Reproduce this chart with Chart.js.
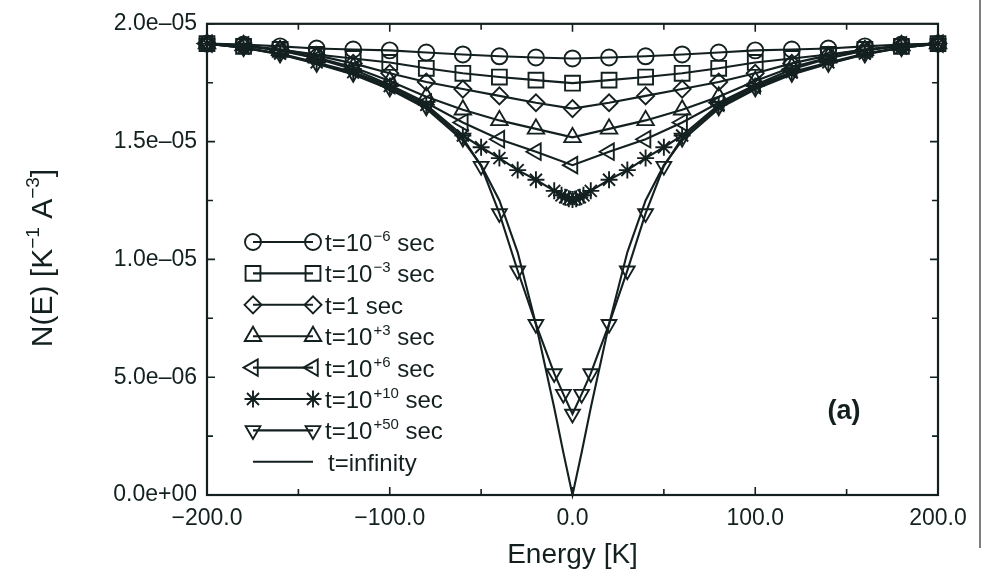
<!DOCTYPE html>
<html>
<head>
<meta charset="utf-8">
<script src="https://cdn.jsdelivr.net/npm/chart.js@4.4.1/dist/chart.umd.min.js"></script>
<style>
  html, body { margin: 0; padding: 0; background: #fff; }
  #wrap { width: 984px; height: 572px; position: relative; }
</style>
</head>
<body>
<div id="wrap"><canvas id="chart" width="984" height="572"></canvas></div>
<script>
// Energy grids [K]
var xCoarse = [-200, -180, -160, -140, -120, -100, -80, -60, -40, -20, 0, 20, 40, 60, 80, 100, 120, 140, 160, 180, 200];
var xStar = [-200, -180, -160, -140, -120, -100, -80, -60, -50, -40, -30, -20, -10, -6, -4, -2, 0, 2, 4, 6, 10, 20, 30, 40, 50, 60, 80, 100, 120, 140, 160, 180, 200];
var xFine = [-200, -180, -160, -140, -120, -100, -80, -60, -50, -40, -30, -20, -10, -5, 0, 5, 10, 20, 30, 40, 50, 60, 80, 100, 120, 140, 160, 180, 200];

// N(E) in units of 1e-5 K^-1 A^-3
var nT6m = [1.916, 1.912, 1.904, 1.895, 1.891, 1.887, 1.878, 1.870, 1.862, 1.857, 1.853, 1.857, 1.862, 1.870, 1.878, 1.887, 1.891, 1.895, 1.904, 1.912, 1.916];
var nT3m = [1.916, 1.904, 1.891, 1.870, 1.853, 1.836, 1.811, 1.790, 1.774, 1.761, 1.748, 1.761, 1.774, 1.790, 1.811, 1.836, 1.853, 1.870, 1.891, 1.904, 1.916];
var nT1 = [1.916, 1.908, 1.891, 1.866, 1.832, 1.790, 1.753, 1.723, 1.694, 1.665, 1.640, 1.665, 1.694, 1.723, 1.753, 1.790, 1.832, 1.866, 1.891, 1.908, 1.916];
var nT3p = [1.916, 1.908, 1.887, 1.857, 1.816, 1.757, 1.690, 1.635, 1.590, 1.554, 1.518, 1.554, 1.590, 1.635, 1.690, 1.757, 1.816, 1.857, 1.887, 1.908, 1.916];
var nT6p = [1.916, 1.908, 1.887, 1.853, 1.807, 1.740, 1.665, 1.581, 1.510, 1.457, 1.400, 1.457, 1.510, 1.581, 1.665, 1.740, 1.807, 1.853, 1.887, 1.908, 1.916];
var nT10p = [1.916, 1.899, 1.874, 1.836, 1.795, 1.736, 1.656, 1.526, 1.476, 1.430, 1.379, 1.338, 1.291, 1.272, 1.264, 1.257, 1.254, 1.257, 1.264, 1.272, 1.291, 1.338, 1.379, 1.430, 1.476, 1.526, 1.656, 1.736, 1.795, 1.836, 1.874, 1.899, 1.916];
var nT50p = [1.916, 1.899, 1.872, 1.832, 1.790, 1.728, 1.648, 1.515, 1.396, 1.195, 0.952, 0.725, 0.516, 0.428, 0.344, 0.428, 0.516, 0.725, 0.952, 1.195, 1.396, 1.515, 1.648, 1.728, 1.790, 1.832, 1.872, 1.899, 1.916];
var nInf = [1.916, 1.899, 1.870, 1.830, 1.785, 1.722, 1.640, 1.505, 1.400, 1.250, 1.030, 0.725, 0.370, 0.180, 0.000, 0.180, 0.370, 0.725, 1.030, 1.250, 1.400, 1.505, 1.640, 1.722, 1.785, 1.830, 1.870, 1.899, 1.916];

var xTickLabels = ["\u2212200.0", "\u2212100.0", "0.0", "100.0", "200.0"];
var yTickLabels = ["0.0e+00", "5.0e\u201306", "1.0e\u201305", "1.5e\u201305", "2.0e\u201305"];

// legend text pieces: [base, superscript, tail]
var legendParts = [
  ["t=10", "\u22126", " sec"],
  ["t=10", "\u22123", " sec"],
  ["t=1 sec", "", ""],
  ["t=10", "+3", " sec"],
  ["t=10", "+6", " sec"],
  ["t=10", "+10", " sec"],
  ["t=10", "+50", " sec"],
  ["t=infinity", "", ""]
];

var ink = "#142020";
var fontFam = "'Liberation Sans', Arial, Helvetica, sans-serif";

function pts(xs, ys) {
  return xs.map(function (x, i) { return { x: x, y: ys[i] }; });
}

function series(label, xs, ys, style, radius, rotation) {
  return {
    label: label,
    data: pts(xs, ys),
    borderColor: ink,
    borderWidth: 2.1,
    backgroundColor: "rgba(0,0,0,0)",
    pointStyle: style,
    pointRadius: radius,
    pointRotation: rotation || 0,
    pointBorderWidth: 1.9,
    pointBorderColor: ink,
    pointBackgroundColor: "rgba(0,0,0,0)",
    tension: 0,
    fill: false,
    clip: false
  };
}

var datasets = [
  series("t=10^-6 sec", xCoarse, nT6m, "circle", 8),
  series("t=10^-3 sec", xCoarse, nT3m, "rect", 10.5),
  series("t=1 sec", xCoarse, nT1, "rectRot", 8.5),
  series("t=10^+3 sec", xCoarse, nT3p, "triangle", 9.5),
  series("t=10^+6 sec", xCoarse, nT6p, "triangle", 9.5, -90),
  series("t=10^+10 sec", xStar, nT10p, "star", 8.5),
  series("t=10^+50 sec", xFine, nT50p, "triangle", 8.5, 180),
  series("t=infinity", xFine, nInf, false, 0)
];

///Frame, inward ticks, legend and labels drawn by hand
var decorPlugin = {
  id: "decor",
  beforeDatasetsDraw: function (chart) {
    var ctx = chart.ctx;
    var a = chart.chartArea;
    var xs = chart.scales.x, ys = chart.scales.y;
    ctx.save();
    ctx.strokeStyle = ink;
    ctx.lineWidth = 2.2;
    ctx.strokeRect(a.left, a.top, a.right - a.left, a.bottom - a.top);
    ctx.lineWidth = 1.6;
    var v, p, len;
    for (v = -200; v <= 200; v += 50) {
      p = xs.getPixelForValue(v);
      len = v % 100 === 0 ? 8 : 6;
      ctx.beginPath();
      ctx.moveTo(p, a.bottom); ctx.lineTo(p, a.bottom - len);
      ctx.moveTo(p, a.top); ctx.lineTo(p, a.top + len);
      ctx.stroke();
    }
    for (v = 0; v <= 2; v += 0.25) {
      p = ys.getPixelForValue(v);
      len = Math.abs(v * 2 - Math.round(v * 2)) < 1e-6 ? 8 : 6;
      ctx.beginPath();
      ctx.moveTo(a.left, p); ctx.lineTo(a.left + len, p);
      ctx.moveTo(a.right, p); ctx.lineTo(a.right - len, p);
      ctx.stroke();
    }
    ctx.restore();
  },
  afterDraw: function (chart) {
    var ctx = chart.ctx;
    ctx.save();
    // legend
    var x0 = 253, x1 = 313, y0 = 242, dy = 31.4;
    legendParts.forEach(function (parts, i) {
      var ds = chart.data.datasets[i];
      var y = y0 + i * dy;
      ctx.strokeStyle = ink;
      ctx.fillStyle = "rgba(0,0,0,0)";
      ctx.lineWidth = 2.1;
      ctx.beginPath();
      ctx.moveTo(x0, y); ctx.lineTo(x1, y);
      ctx.stroke();
      if (ds.pointStyle) {
        var opt = { pointStyle: ds.pointStyle, radius: ds.pointRadius, rotation: ds.pointRotation, borderWidth: 1.9 };
        ctx.lineWidth = 1.9;
        Chart.helpers.drawPoint(ctx, opt, x0, y);
        Chart.helpers.drawPoint(ctx, opt, x1, y);
      }
      ctx.fillStyle = ink;
      ctx.textBaseline = "alphabetic";
      ctx.textAlign = "left";
      var tx = ds.pointStyle ? 325 : 328;
      ctx.font = "24px " + fontFam;
      ctx.fillText(parts[0], tx, y + 9);
      tx += ctx.measureText(parts[0]).width;
      if (parts[1]) {
        ctx.font = "15px " + fontFam;
        ctx.fillText(parts[1], tx + 1, y - 1);
        tx += ctx.measureText(parts[1]).width + 1;
        ctx.font = "24px " + fontFam;
        ctx.fillText(parts[2], tx, y + 9);
      }
    });

    // y axis title with superscripts
    var yParts = [["N(E) [K", 0], ["\u22121", 1], [" A", 0], ["\u22123", 1], ["]", 0]];
    ctx.translate(41, 258);
    ctx.rotate(-Math.PI / 2);
    var total = 0;
    yParts.forEach(function (pp) {
      ctx.font = (pp[1] ? "19px " : "30px ") + fontFam;
      total += ctx.measureText(pp[0]).width;
    });
    var cx = -total / 2;
    yParts.forEach(function (pp) {
      ctx.font = (pp[1] ? "19px " : "30px ") + fontFam;
      ctx.fillText(pp[0], cx, pp[1] ? -2 : 11);
      cx += ctx.measureText(pp[0]).width;
    });
    ctx.setTransform(1, 0, 0, 1, 0, 0);

    // panel tag
    ctx.font = "bold 27px " + fontFam;
    ctx.textAlign = "center";
    ctx.fillText("(a)", 844, 419);

    // scan edge line at the right
    ctx.strokeStyle = "#555";
    ctx.lineWidth = 1.5;
    ctx.beginPath();
    ctx.moveTo(980, 0); ctx.lineTo(980, 548);
    ctx.stroke();
    ctx.restore();
  }
};

var ctx = document.getElementById("chart");
var mychart = new Chart(ctx, {
  type: "line",
  data: { datasets: datasets },
  options: {
    responsive: false,
    animation: false,
    events: [],
    layout: { padding: { left: 0, right: 46, top: 18, bottom: 0 } },
    plugins: {
      legend: { display: false },
      tooltip: { enabled: false }
    },
    scales: {
      x: {
        type: "linear",
        min: -200,
        max: 200,
        grid: { display: false, drawTicks: false },
        border: { display: false },
        ticks: {
          stepSize: 100,
          autoSkip: false,
          maxRotation: 0,
          padding: 10,
          color: ink,
          font: { family: fontFam, size: 23 },
          callback: function (value, index) { return xTickLabels[index]; }
        },
        title: {
          display: true,
          text: "Energy [K]",
          color: ink,
          font: { family: fontFam, size: 28 },
          padding: { top: 2, bottom: 0 }
        },
        afterFit: function (scale) { scale.height = 77; }
      },
      y: {
        type: "linear",
        min: 0,
        max: 2,
        grid: { display: false, drawTicks: false },
        border: { display: false },
        ticks: {
          stepSize: 0.5,
          autoSkip: false,
          padding: 10,
          color: ink,
          font: { family: fontFam, size: 23 },
          callback: function (value, index) { return yTickLabels[index]; }
        },
        afterFit: function (scale) { scale.width = 207; }
      }
    }
  },
  plugins: [decorPlugin]
});
</script>
</body>
</html>
